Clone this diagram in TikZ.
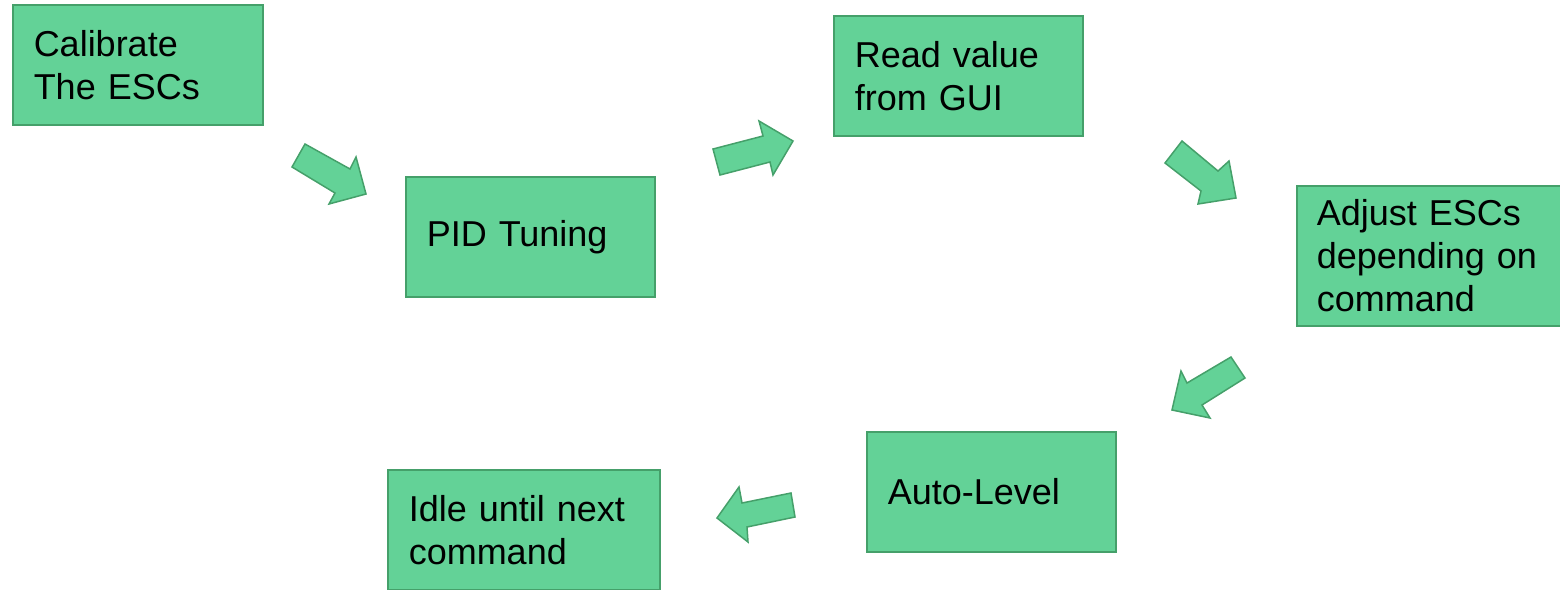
\documentclass[tikz,border=0pt]{standalone}
\usepackage{fontspec}
\setmainfont{Liberation Sans}
\definecolor{boxfill}{HTML}{63D297}
\definecolor{boxline}{HTML}{45A06A}
\begin{document}
\begin{tikzpicture}[x=1pt,y=-1pt,
  stepbox/.style={draw=boxline,fill=boxfill,line width=1.5pt,minimum height=120pt,
    inner xsep=21pt,inner ysep=0pt,align=left,anchor=north west,
    font=\fontsize{36}{43}\selectfont},
  blockarrow/.style={draw=boxline,fill=boxfill,line width=1.5pt,line join=miter}]
\useasboundingbox (0,0) rectangle (1560,589);

% process steps
\node[stepbox,text width=208pt] (cal) at (12,4) {Calibrate\\The ESCs};
\node[stepbox,text width=207pt] (pid) at (405,176) {PID Tuning};
\node[stepbox,text width=207pt] (gui) at (833,15) {Read value\\from GUI};
\node[stepbox,text width=250pt,minimum height=140pt,inner xsep=20pt] (adj) at (1296,185) {Adjust ESCs\\depending on\\command};
\node[stepbox,text width=207pt] (lvl) at (866,431) {Auto-Level};
\node[stepbox,text width=230pt] (idle) at (387,469) {Idle until next\\command};

% block arrows between the steps
\draw[blockarrow] (305,144) -- (350,169) -- (356,157) -- (366,194) -- (329,204) -- (335,193) -- (292,167) -- cycle;
\draw[blockarrow] (713,149) -- (763,136) -- (759,121) -- (793,141) -- (773,175) -- (770,162) -- (720,175) -- cycle;
\draw[blockarrow] (1182,141) -- (1218,171) -- (1229,161) -- (1236,198) -- (1198,204) -- (1201,191) -- (1165,163) -- cycle;
\draw[blockarrow] (1231,357) -- (1187,383) -- (1181,371) -- (1172,410) -- (1210,418) -- (1202,405) -- (1245,378) -- cycle;
\draw[blockarrow] (791,493) -- (742,503) -- (739,487) -- (717,518) -- (748,542) -- (747,527) -- (795,517) -- cycle;
\end{tikzpicture}
\end{document}
